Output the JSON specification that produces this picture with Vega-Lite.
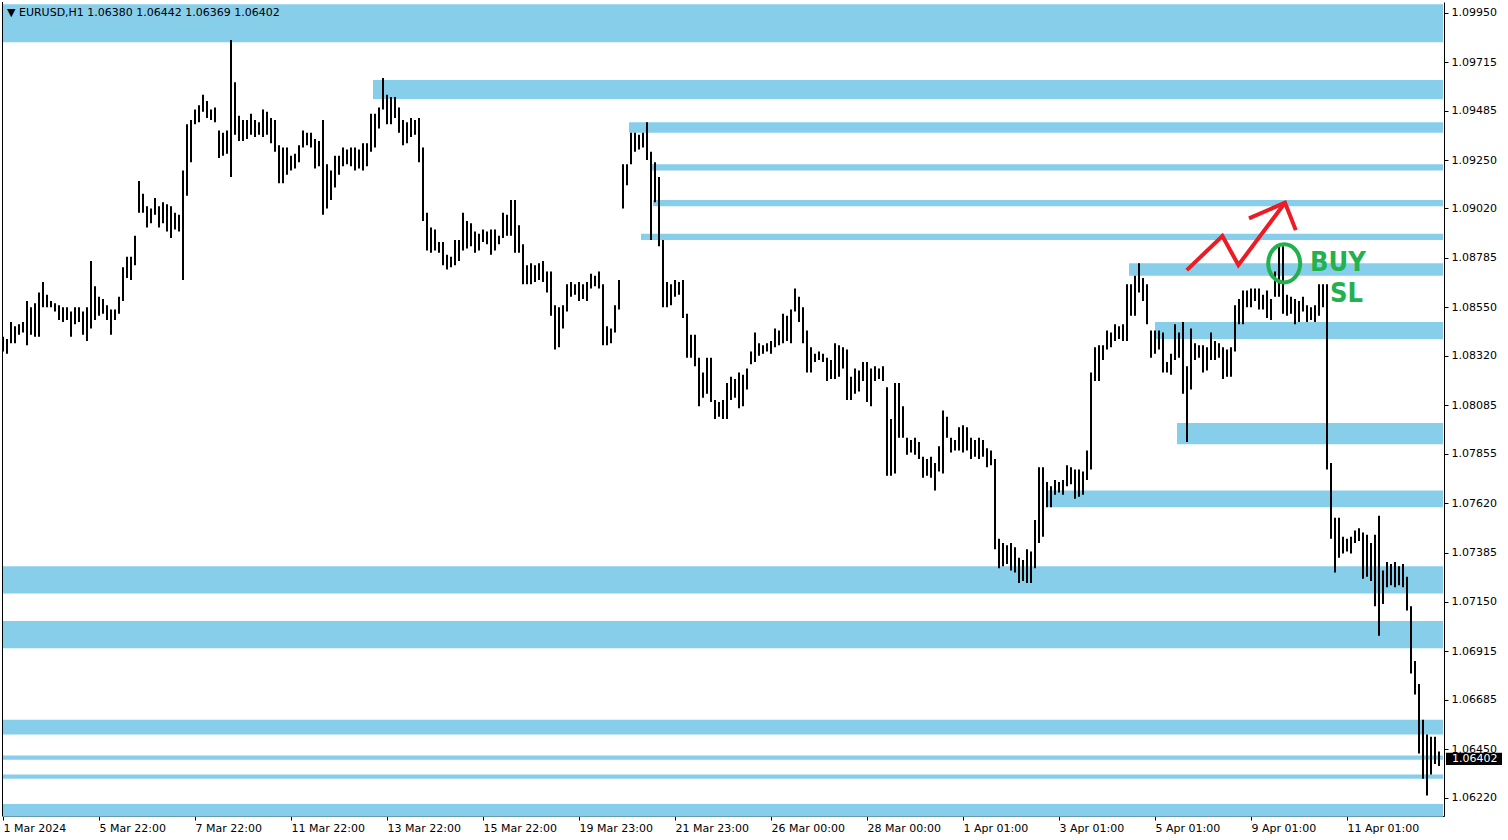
{
"$schema": "https://vega.github.io/schema/vega-lite/v6.json",
"width": 1442, "height": 814,
"autosize": {"type": "none"},
"padding": {"left": 2, "top": 2, "right": 64, "bottom": 24},
"background": "white",
"config": {"view": {"stroke": null}},
"datasets": {
"zones": [
{"i1":-0.5,"i2":720,"hi":1.0999,"lo":1.0981},
{"i1":185,"i2":720,"hi":1.0963,"lo":1.0954},
{"i1":313,"i2":720,"hi":1.0943,"lo":1.0938},
{"i1":324,"i2":720,"hi":1.0923,"lo":1.0920},
{"i1":325,"i2":720,"hi":1.0906,"lo":1.0903},
{"i1":319,"i2":720,"hi":1.0890,"lo":1.0887},
{"i1":563,"i2":720,"hi":1.0876,"lo":1.0870},
{"i1":576,"i2":720,"hi":1.0848,"lo":1.0840},
{"i1":587,"i2":720,"hi":1.0800,"lo":1.0790},
{"i1":522,"i2":720,"hi":1.0768,"lo":1.0760},
{"i1":0,"i2":720,"hi":1.0732,"lo":1.0719},
{"i1":0,"i2":720,"hi":1.0706,"lo":1.0693},
{"i1":0,"i2":720,"hi":1.0659,"lo":1.0652},
{"i1":0,"i2":720,"hi":1.0642,"lo":1.0640},
{"i1":0,"i2":720,"hi":1.0633,"lo":1.0631},
{"i1":0,"i2":720,"hi":1.0619,"lo":1.0613}
],
"bars": [
{"i":0,"lo":1.0834,"hi":1.0841},{"i":2,"lo":1.0833,"hi":1.0840},{"i":4,"lo":1.0838,"hi":1.0848},{"i":6,"lo":1.0838,"hi":1.0846},
{"i":8,"lo":1.0842,"hi":1.0847},{"i":10,"lo":1.0843,"hi":1.0848},{"i":12,"lo":1.0837,"hi":1.0858},{"i":14,"lo":1.0842,"hi":1.0855},
{"i":16,"lo":1.0841,"hi":1.0857},{"i":18,"lo":1.0841,"hi":1.0862},{"i":20,"lo":1.0855,"hi":1.0867},{"i":22,"lo":1.0855,"hi":1.0861},
{"i":24,"lo":1.0855,"hi":1.0858},{"i":26,"lo":1.0853,"hi":1.0857},{"i":28,"lo":1.0849,"hi":1.0856},{"i":30,"lo":1.0848,"hi":1.0855},
{"i":32,"lo":1.0849,"hi":1.0855},{"i":34,"lo":1.0841,"hi":1.0853},{"i":36,"lo":1.0847,"hi":1.0855},{"i":38,"lo":1.0848,"hi":1.0855},
{"i":40,"lo":1.0842,"hi":1.0853},{"i":42,"lo":1.0839,"hi":1.0855},{"i":44,"lo":1.0845,"hi":1.0877},{"i":46,"lo":1.0849,"hi":1.0865},
{"i":48,"lo":1.0851,"hi":1.0860},{"i":50,"lo":1.0852,"hi":1.0859},{"i":52,"lo":1.0849,"hi":1.0856},{"i":54,"lo":1.0842,"hi":1.0854},
{"i":56,"lo":1.0849,"hi":1.0854},{"i":58,"lo":1.0852,"hi":1.0860},{"i":60,"lo":1.0858,"hi":1.0874},{"i":62,"lo":1.0869,"hi":1.0879},
{"i":64,"lo":1.0868,"hi":1.0879},{"i":66,"lo":1.0875,"hi":1.0889},{"i":68,"lo":1.0900,"hi":1.0915},{"i":70,"lo":1.0900,"hi":1.0909},
{"i":72,"lo":1.0893,"hi":1.0903},{"i":74,"lo":1.0895,"hi":1.0902},{"i":76,"lo":1.0899,"hi":1.0907},{"i":78,"lo":1.0893,"hi":1.0903},
{"i":80,"lo":1.0895,"hi":1.0905},{"i":82,"lo":1.0891,"hi":1.0904},{"i":84,"lo":1.0888,"hi":1.0903},{"i":86,"lo":1.0892,"hi":1.0900},
{"i":88,"lo":1.0891,"hi":1.0899},{"i":90,"lo":1.0868,"hi":1.0920},{"i":92,"lo":1.0908,"hi":1.0942},{"i":94,"lo":1.0924,"hi":1.0944},
{"i":96,"lo":1.0942,"hi":1.0949},{"i":98,"lo":1.0943,"hi":1.0951},{"i":100,"lo":1.0948,"hi":1.0956},{"i":102,"lo":1.0945,"hi":1.0953},
{"i":104,"lo":1.0944,"hi":1.0949},{"i":106,"lo":1.0943,"hi":1.0950},{"i":108,"lo":1.0926,"hi":1.0939},{"i":110,"lo":1.0927,"hi":1.0938},
{"i":112,"lo":1.0928,"hi":1.0939},{"i":114,"lo":1.0917,"hi":1.0982},{"i":116,"lo":1.0937,"hi":1.0962},{"i":118,"lo":1.0934,"hi":1.0946},
{"i":120,"lo":1.0934,"hi":1.0944},{"i":122,"lo":1.0935,"hi":1.0944},{"i":124,"lo":1.0937,"hi":1.0947},{"i":126,"lo":1.0936,"hi":1.0944},
{"i":128,"lo":1.0937,"hi":1.0943},{"i":130,"lo":1.0936,"hi":1.0949},{"i":132,"lo":1.0937,"hi":1.0948},{"i":134,"lo":1.0933,"hi":1.0945},
{"i":136,"lo":1.0929,"hi":1.0944},{"i":138,"lo":1.0914,"hi":1.0932},{"i":140,"lo":1.0914,"hi":1.0931},{"i":142,"lo":1.0918,"hi":1.0931},
{"i":144,"lo":1.0920,"hi":1.0927},{"i":146,"lo":1.0921,"hi":1.0928},{"i":148,"lo":1.0924,"hi":1.0932},{"i":150,"lo":1.0931,"hi":1.0939},
{"i":152,"lo":1.0932,"hi":1.0938},{"i":154,"lo":1.0931,"hi":1.0938},{"i":156,"lo":1.0921,"hi":1.0935},{"i":158,"lo":1.0922,"hi":1.0934},
{"i":160,"lo":1.0899,"hi":1.0944},{"i":162,"lo":1.0902,"hi":1.0923},{"i":164,"lo":1.0906,"hi":1.0920},{"i":166,"lo":1.0912,"hi":1.0927},
{"i":168,"lo":1.0918,"hi":1.0927},{"i":170,"lo":1.0922,"hi":1.0931},{"i":172,"lo":1.0923,"hi":1.0930},{"i":174,"lo":1.0922,"hi":1.0931},
{"i":176,"lo":1.0920,"hi":1.0931},{"i":178,"lo":1.0921,"hi":1.0930},{"i":180,"lo":1.0920,"hi":1.0933},{"i":182,"lo":1.0922,"hi":1.0933},
{"i":184,"lo":1.0929,"hi":1.0947},{"i":186,"lo":1.0931,"hi":1.0947},{"i":188,"lo":1.0940,"hi":1.0950},{"i":190,"lo":1.0949,"hi":1.0964},
{"i":192,"lo":1.0942,"hi":1.0956},{"i":194,"lo":1.0942,"hi":1.0955},{"i":196,"lo":1.0945,"hi":1.0955},{"i":198,"lo":1.0938,"hi":1.0950},
{"i":200,"lo":1.0932,"hi":1.0944},{"i":202,"lo":1.0933,"hi":1.0943},{"i":204,"lo":1.0936,"hi":1.0945},{"i":206,"lo":1.0937,"hi":1.0944},
{"i":208,"lo":1.0924,"hi":1.0945},{"i":210,"lo":1.0896,"hi":1.0931},{"i":212,"lo":1.0882,"hi":1.0900},{"i":214,"lo":1.0881,"hi":1.0893},
{"i":216,"lo":1.0882,"hi":1.0892},{"i":218,"lo":1.0881,"hi":1.0886},{"i":220,"lo":1.0875,"hi":1.0886},{"i":222,"lo":1.0873,"hi":1.0880},
{"i":224,"lo":1.0874,"hi":1.0879},{"i":226,"lo":1.0875,"hi":1.0887},{"i":228,"lo":1.0877,"hi":1.0887},{"i":230,"lo":1.0882,"hi":1.0900},
{"i":232,"lo":1.0883,"hi":1.0896},{"i":234,"lo":1.0884,"hi":1.0895},{"i":236,"lo":1.0881,"hi":1.0891},{"i":238,"lo":1.0882,"hi":1.0890},
{"i":240,"lo":1.0886,"hi":1.0892},{"i":242,"lo":1.0885,"hi":1.0891},{"i":244,"lo":1.0880,"hi":1.0892},{"i":246,"lo":1.0882,"hi":1.0892},
{"i":248,"lo":1.0885,"hi":1.0889},{"i":250,"lo":1.0888,"hi":1.0900},{"i":252,"lo":1.0889,"hi":1.0899},{"i":254,"lo":1.0889,"hi":1.0906},
{"i":256,"lo":1.0881,"hi":1.0906},{"i":258,"lo":1.0881,"hi":1.0894},{"i":260,"lo":1.0866,"hi":1.0885},{"i":262,"lo":1.0866,"hi":1.0875},
{"i":264,"lo":1.0866,"hi":1.0876},{"i":266,"lo":1.0867,"hi":1.0875},{"i":268,"lo":1.0868,"hi":1.0876},{"i":270,"lo":1.0867,"hi":1.0877},
{"i":272,"lo":1.0862,"hi":1.0872},{"i":274,"lo":1.0851,"hi":1.0872},{"i":276,"lo":1.0835,"hi":1.0856},{"i":278,"lo":1.0836,"hi":1.0855},
{"i":280,"lo":1.0845,"hi":1.0856},{"i":282,"lo":1.0853,"hi":1.0866},{"i":284,"lo":1.0860,"hi":1.0867},{"i":286,"lo":1.0861,"hi":1.0866},
{"i":288,"lo":1.0858,"hi":1.0867},{"i":290,"lo":1.0859,"hi":1.0866},{"i":292,"lo":1.0858,"hi":1.0867},{"i":294,"lo":1.0864,"hi":1.0871},
{"i":296,"lo":1.0865,"hi":1.0870},{"i":298,"lo":1.0864,"hi":1.0872},{"i":300,"lo":1.0837,"hi":1.0866},{"i":302,"lo":1.0837,"hi":1.0846},
{"i":304,"lo":1.0838,"hi":1.0845},{"i":306,"lo":1.0843,"hi":1.0856},{"i":308,"lo":1.0854,"hi":1.0868},{"i":310,"lo":1.0902,"hi":1.0923},
{"i":312,"lo":1.0913,"hi":1.0923},{"i":314,"lo":1.0923,"hi":1.0938},{"i":316,"lo":1.0929,"hi":1.0938},{"i":318,"lo":1.0930,"hi":1.0937},
{"i":320,"lo":1.0931,"hi":1.0938},{"i":322,"lo":1.0925,"hi":1.0943},{"i":324,"lo":1.0887,"hi":1.0929},{"i":326,"lo":1.0905,"hi":1.0924},
{"i":328,"lo":1.0884,"hi":1.0917},{"i":330,"lo":1.0855,"hi":1.0887},{"i":332,"lo":1.0855,"hi":1.0867},{"i":334,"lo":1.0856,"hi":1.0866},
{"i":336,"lo":1.0860,"hi":1.0868},{"i":338,"lo":1.0861,"hi":1.0867},{"i":340,"lo":1.0850,"hi":1.0868},{"i":342,"lo":1.0831,"hi":1.0852},
{"i":344,"lo":1.0831,"hi":1.0842},{"i":346,"lo":1.0827,"hi":1.0842},{"i":348,"lo":1.0808,"hi":1.0831},{"i":350,"lo":1.0812,"hi":1.0824},
{"i":352,"lo":1.0814,"hi":1.0831},{"i":354,"lo":1.0810,"hi":1.0831},{"i":356,"lo":1.0802,"hi":1.0811},{"i":358,"lo":1.0803,"hi":1.0810},
{"i":360,"lo":1.0802,"hi":1.0811},{"i":362,"lo":1.0802,"hi":1.0819},{"i":364,"lo":1.0811,"hi":1.0822},{"i":366,"lo":1.0812,"hi":1.0821},
{"i":368,"lo":1.0807,"hi":1.0824},{"i":370,"lo":1.0808,"hi":1.0823},{"i":372,"lo":1.0816,"hi":1.0826},{"i":374,"lo":1.0828,"hi":1.0834},
{"i":376,"lo":1.0829,"hi":1.0843},{"i":378,"lo":1.0832,"hi":1.0838},{"i":380,"lo":1.0833,"hi":1.0837},{"i":382,"lo":1.0834,"hi":1.0838},
{"i":384,"lo":1.0833,"hi":1.0839},{"i":386,"lo":1.0836,"hi":1.0845},{"i":388,"lo":1.0837,"hi":1.0844},{"i":390,"lo":1.0838,"hi":1.0852},
{"i":392,"lo":1.0839,"hi":1.0851},{"i":394,"lo":1.0838,"hi":1.0854},{"i":396,"lo":1.0853,"hi":1.0864},{"i":398,"lo":1.0848,"hi":1.0860},
{"i":400,"lo":1.0838,"hi":1.0855},{"i":402,"lo":1.0824,"hi":1.0844},{"i":404,"lo":1.0824,"hi":1.0836},{"i":406,"lo":1.0829,"hi":1.0833},
{"i":408,"lo":1.0830,"hi":1.0834},{"i":410,"lo":1.0829,"hi":1.0833},{"i":412,"lo":1.0820,"hi":1.0831},{"i":414,"lo":1.0821,"hi":1.0830},
{"i":416,"lo":1.0821,"hi":1.0838},{"i":418,"lo":1.0822,"hi":1.0837},{"i":420,"lo":1.0826,"hi":1.0836},{"i":422,"lo":1.0811,"hi":1.0835},
{"i":424,"lo":1.0811,"hi":1.0822},{"i":426,"lo":1.0814,"hi":1.0826},{"i":428,"lo":1.0815,"hi":1.0825},{"i":430,"lo":1.0820,"hi":1.0829},
{"i":432,"lo":1.0810,"hi":1.0829},{"i":434,"lo":1.0808,"hi":1.0826},{"i":436,"lo":1.0820,"hi":1.0827},{"i":438,"lo":1.0821,"hi":1.0826},
{"i":440,"lo":1.0820,"hi":1.0827},{"i":442,"lo":1.0775,"hi":1.0817},{"i":444,"lo":1.0775,"hi":1.0802},{"i":446,"lo":1.0776,"hi":1.0819},
{"i":448,"lo":1.0793,"hi":1.0819},{"i":450,"lo":1.0793,"hi":1.0808},{"i":452,"lo":1.0785,"hi":1.0793},{"i":454,"lo":1.0786,"hi":1.0792},
{"i":456,"lo":1.0785,"hi":1.0793},{"i":458,"lo":1.0783,"hi":1.0791},{"i":460,"lo":1.0774,"hi":1.0784},{"i":462,"lo":1.0775,"hi":1.0783},
{"i":464,"lo":1.0774,"hi":1.0784},{"i":466,"lo":1.0768,"hi":1.0781},{"i":468,"lo":1.0777,"hi":1.0789},{"i":470,"lo":1.0776,"hi":1.0806},
{"i":472,"lo":1.0793,"hi":1.0803},{"i":474,"lo":1.0786,"hi":1.0793},{"i":476,"lo":1.0787,"hi":1.0792},{"i":478,"lo":1.0787,"hi":1.0798},
{"i":480,"lo":1.0786,"hi":1.0799},{"i":482,"lo":1.0787,"hi":1.0798},{"i":484,"lo":1.0783,"hi":1.0793},{"i":486,"lo":1.0784,"hi":1.0792},
{"i":488,"lo":1.0783,"hi":1.0793},{"i":490,"lo":1.0784,"hi":1.0792},{"i":492,"lo":1.0779,"hi":1.0788},{"i":494,"lo":1.0780,"hi":1.0787},
{"i":496,"lo":1.0740,"hi":1.0783},{"i":498,"lo":1.0731,"hi":1.0745},{"i":500,"lo":1.0732,"hi":1.0743},{"i":502,"lo":1.0733,"hi":1.0742},
{"i":504,"lo":1.0730,"hi":1.0743},{"i":506,"lo":1.0729,"hi":1.0741},{"i":508,"lo":1.0724,"hi":1.0736},{"i":510,"lo":1.0725,"hi":1.0735},
{"i":512,"lo":1.0724,"hi":1.0740},{"i":514,"lo":1.0724,"hi":1.0739},{"i":516,"lo":1.0731,"hi":1.0754},{"i":518,"lo":1.0743,"hi":1.0779},
{"i":520,"lo":1.0746,"hi":1.0779},{"i":522,"lo":1.0760,"hi":1.0772},{"i":524,"lo":1.0760,"hi":1.0770},{"i":526,"lo":1.0766,"hi":1.0773},
{"i":528,"lo":1.0767,"hi":1.0772},{"i":530,"lo":1.0766,"hi":1.0773},{"i":532,"lo":1.0770,"hi":1.0780},{"i":534,"lo":1.0771,"hi":1.0779},
{"i":536,"lo":1.0764,"hi":1.0778},{"i":538,"lo":1.0765,"hi":1.0778},{"i":540,"lo":1.0766,"hi":1.0777},{"i":542,"lo":1.0773,"hi":1.0787},
{"i":544,"lo":1.0778,"hi":1.0824},{"i":546,"lo":1.0820,"hi":1.0836},{"i":548,"lo":1.0820,"hi":1.0837},{"i":550,"lo":1.0830,"hi":1.0837},
{"i":552,"lo":1.0835,"hi":1.0844},{"i":554,"lo":1.0836,"hi":1.0843},{"i":556,"lo":1.0839,"hi":1.0847},{"i":558,"lo":1.0840,"hi":1.0846},
{"i":560,"lo":1.0839,"hi":1.0847},{"i":562,"lo":1.0839,"hi":1.0866},{"i":564,"lo":1.0851,"hi":1.0866},{"i":566,"lo":1.0851,"hi":1.0870},
{"i":568,"lo":1.0862,"hi":1.0876},{"i":570,"lo":1.0858,"hi":1.0869},{"i":572,"lo":1.0847,"hi":1.0866},{"i":574,"lo":1.0831,"hi":1.0844},
{"i":576,"lo":1.0833,"hi":1.0844},{"i":578,"lo":1.0835,"hi":1.0844},{"i":580,"lo":1.0824,"hi":1.0843},{"i":582,"lo":1.0824,"hi":1.0829},
{"i":584,"lo":1.0823,"hi":1.0833},{"i":586,"lo":1.0830,"hi":1.0847},{"i":588,"lo":1.0831,"hi":1.0843},{"i":590,"lo":1.0814,"hi":1.0848},
{"i":592,"lo":1.0791,"hi":1.0827},{"i":594,"lo":1.0816,"hi":1.0845},{"i":596,"lo":1.0830,"hi":1.0838},{"i":598,"lo":1.0831,"hi":1.0837},
{"i":600,"lo":1.0824,"hi":1.0837},{"i":602,"lo":1.0825,"hi":1.0836},{"i":604,"lo":1.0830,"hi":1.0843},{"i":606,"lo":1.0830,"hi":1.0839},
{"i":608,"lo":1.0831,"hi":1.0838},{"i":610,"lo":1.0821,"hi":1.0836},{"i":612,"lo":1.0822,"hi":1.0835},{"i":614,"lo":1.0822,"hi":1.0836},
{"i":616,"lo":1.0834,"hi":1.0856},{"i":618,"lo":1.0847,"hi":1.0859},{"i":620,"lo":1.0847,"hi":1.0863},{"i":622,"lo":1.0855,"hi":1.0863},
{"i":624,"lo":1.0855,"hi":1.0864},{"i":626,"lo":1.0858,"hi":1.0864},{"i":628,"lo":1.0854,"hi":1.0864},{"i":630,"lo":1.0854,"hi":1.0861},
{"i":632,"lo":1.0850,"hi":1.0863},{"i":634,"lo":1.0849,"hi":1.0859},{"i":636,"lo":1.0860,"hi":1.0872},{"i":638,"lo":1.0860,"hi":1.0884},
{"i":640,"lo":1.0852,"hi":1.0884},{"i":642,"lo":1.0851,"hi":1.0861},{"i":644,"lo":1.0852,"hi":1.0860},{"i":646,"lo":1.0847,"hi":1.0859},
{"i":648,"lo":1.0848,"hi":1.0858},{"i":650,"lo":1.0853,"hi":1.0860},{"i":652,"lo":1.0848,"hi":1.0856},{"i":654,"lo":1.0849,"hi":1.0855},
{"i":656,"lo":1.0848,"hi":1.0856},{"i":658,"lo":1.0851,"hi":1.0866},{"i":660,"lo":1.0855,"hi":1.0866},{"i":662,"lo":1.0778,"hi":1.0866},
{"i":664,"lo":1.0745,"hi":1.0781},{"i":666,"lo":1.0729,"hi":1.0755},{"i":668,"lo":1.0736,"hi":1.0755},{"i":670,"lo":1.0738,"hi":1.0746},
{"i":672,"lo":1.0739,"hi":1.0745},{"i":674,"lo":1.0738,"hi":1.0746},{"i":676,"lo":1.0743,"hi":1.0749},{"i":678,"lo":1.0744,"hi":1.0750},
{"i":680,"lo":1.0726,"hi":1.0748},{"i":682,"lo":1.0727,"hi":1.0747},{"i":684,"lo":1.0725,"hi":1.0743},{"i":686,"lo":1.0713,"hi":1.0747},
{"i":688,"lo":1.0699,"hi":1.0756},{"i":690,"lo":1.0714,"hi":1.0730},{"i":692,"lo":1.0722,"hi":1.0734},{"i":694,"lo":1.0723,"hi":1.0733},
{"i":696,"lo":1.0722,"hi":1.0734},{"i":698,"lo":1.0723,"hi":1.0732},{"i":700,"lo":1.0722,"hi":1.0733},{"i":702,"lo":1.0711,"hi":1.0727},
{"i":704,"lo":1.0681,"hi":1.0713},{"i":706,"lo":1.0671,"hi":1.0687},{"i":708,"lo":1.0643,"hi":1.0676},{"i":710,"lo":1.0631,"hi":1.0659},
{"i":712,"lo":1.0623,"hi":1.0652},{"i":714,"lo":1.0633,"hi":1.0651},{"i":716,"lo":1.0638,"hi":1.0651},{"i":718,"lo":1.0637,"hi":1.0644}
],
"arrow": [
{"seg":"a","o":1,"i":591.9,"p":1.08727},{"seg":"a","o":2,"i":609.7,"p":1.08889},{"seg":"a","o":3,"i":617.7,"p":1.08751},{"seg":"a","o":4,"i":641,"p":1.09047},
{"seg":"b","o":1,"i":623,"p":1.08973},{"seg":"b","o":2,"i":641,"p":1.09047},{"seg":"b","o":3,"i":646.4,"p":1.08917}
],
"marker": [{"i":640.6,"p":1.08759}],
"notes": [{"t":"BUY","i":653.5,"p":1.08725},{"t":"SL","i":663.5,"p":1.08575}],
"header": [{"t":"▼ EURUSD,H1  1.06380 1.06442 1.06369 1.06402","i":2,"p":1.0995}],
"tag": [{"t":"1.06402","i":721.5,"i2":749.5,"hi":1.06433,"lo":1.06375,"ti":724.5,"p":1.06404}],
"frame": [{"i":-0.25}]
},
"layer": [
{"data":{"name":"zones"},"mark":{"type":"rect","color":"#87CEEB"},
 "encoding":{
  "x":{"field":"i1","type":"quantitative","title":null,"scale":{"domain":[-0.5,720.5],"nice":false,"zero":false},
       "axis":{"orient":"bottom","values":[0,48,96,144,192,240,288,336,384,432,480,528,576,624,672],
        "labelExpr":"['1 Mar 2024','5 Mar 22:00','7 Mar 22:00','11 Mar 22:00','13 Mar 22:00','15 Mar 22:00','19 Mar 23:00','21 Mar 23:00','26 Mar 00:00','28 Mar 00:00','1 Apr 01:00','3 Apr 01:00','5 Apr 01:00','9 Apr 01:00','11 Apr 01:00'][round(datum.value/48)]",
        "labels":true,"ticks":true,"domain":true,
        "labelAlign":"left","labelBaseline":"top","labelFont":"DejaVu Sans","labelFontSize":11,"labelColor":"#000000",
        "tickColor":"#000000","tickSize":4,"labelPadding":2,"domainColor":"#000000","grid":false,
        "labelOverlap":false,"labelBound":false,"labelFlush":false,"title":null}},
  "x2":{"field":"i2"},
  "y":{"field":"hi","type":"quantitative","title":null,"scale":{"domain":[1.06133,1.10001],"nice":false,"zero":false},
       "axis":{"orient":"right","values":[1.0995,1.09715,1.09485,1.0925,1.0902,1.08785,1.0855,1.0832,1.08085,1.07855,1.0762,1.07385,1.0715,1.06915,1.06685,1.0645,1.0622],
        "format":".5f","labelFont":"DejaVu Sans","labelFontSize":11,"labelColor":"#000000","tickColor":"#000000","tickSize":4,
        "labels":true,"ticks":true,"domain":true,
        "labelPadding":3,"domainColor":"#000000","grid":false,"labelOverlap":false,"labelBound":false,"labelFlush":false,"title":null}},
  "y2":{"field":"lo"}}},
{"data":{"name":"frame"},"mark":{"type":"rule","color":"#000000","strokeWidth":1},
 "encoding":{"x":{"field":"i","type":"quantitative","title":null}}},
{"data":{"name":"bars"},"mark":{"type":"rule","color":"#000000","strokeWidth":2},
 "encoding":{
  "x":{"field":"i","type":"quantitative","title":null},
  "y":{"field":"lo","type":"quantitative","title":null},
  "y2":{"field":"hi"}}},
{"data":{"name":"arrow"},"mark":{"type":"line","color":"#ED1C24","strokeWidth":4,"strokeCap":"butt","strokeJoin":"miter"},
 "encoding":{
  "x":{"field":"i","type":"quantitative","title":null},
  "y":{"field":"p","type":"quantitative","title":null},
  "detail":{"field":"seg"},"order":{"field":"o"}}},
{"data":{"name":"marker"},"mark":{"type":"point","shape":"M-1,0A1,1.19 0 1,0 1,0A1,1.19 0 1,0 -1,0Z","size":1024,"filled":false,"stroke":"#22B14C","strokeWidth":4,"opacity":1},
 "encoding":{
  "x":{"field":"i","type":"quantitative","title":null},
  "y":{"field":"p","type":"quantitative","title":null}}},
{"data":{"name":"notes"},"mark":{"type":"text","align":"left","baseline":"alphabetic","font":"DejaVu Sans Condensed, DejaVu Sans","fontWeight":"bold","fontSize":27,"color":"#22B14C"},
 "encoding":{
  "x":{"field":"i","type":"quantitative","title":null},
  "y":{"field":"p","type":"quantitative","title":null},
  "text":{"field":"t"}}},
{"data":{"name":"header"},"mark":{"type":"text","align":"left","baseline":"middle","font":"DejaVu Sans","fontSize":11,"color":"#000000"},
 "encoding":{
  "x":{"field":"i","type":"quantitative","title":null},
  "y":{"field":"p","type":"quantitative","title":null},
  "text":{"field":"t"}}},
{"data":{"name":"tag"},"mark":{"type":"rect","color":"#000000"},
 "encoding":{
  "x":{"field":"i","type":"quantitative","title":null},
  "x2":{"field":"i2"},
  "y":{"field":"hi","type":"quantitative","title":null},
  "y2":{"field":"lo"}}},
{"data":{"name":"tag"},"mark":{"type":"text","align":"left","baseline":"middle","font":"DejaVu Sans","fontSize":11,"color":"#FFFFFF"},
 "encoding":{
  "x":{"field":"ti","type":"quantitative","title":null},
  "y":{"field":"p","type":"quantitative","title":null},
  "text":{"field":"t"}}}
]
}
